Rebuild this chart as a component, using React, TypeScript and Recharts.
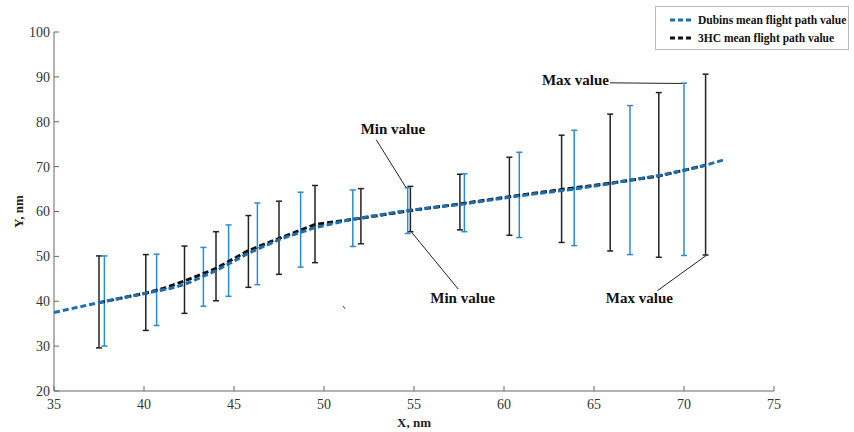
import React from 'react';
import {
  ComposedChart, Line, Scatter, ErrorBar, XAxis, YAxis, ReferenceLine, ReferenceDot, Legend,
} from 'recharts';

// ---- Data ----
const xTicks = [35, 40, 45, 50, 55, 60, 65, 70, 75];
const yTicks = [20, 30, 40, 50, 60, 70, 80, 90, 100];

// Dubins mean flight path
const dubinsMeanX = [35, 37.5, 40.1, 41.5, 42.3, 44.0, 45.8, 47.6, 49.5, 51.6, 54.6, 57.8, 60.85, 63.9, 65.9, 67.0, 68.6, 70.0, 71.2, 72.2];
const dubinsMeanY = [37.5, 39.7, 41.8, 42.9, 43.8, 46.8, 50.7, 53.9, 56.4, 58.3, 60.2, 61.7, 63.5, 65.0, 66.2, 67.0, 68.0, 69.2, 70.3, 71.5];

// 3HC mean flight path
const hcMeanX = [37.5, 40.1, 41.2, 42.3, 44.0, 45.8, 47.5, 49.5, 52.05, 54.8, 57.55, 60.3, 63.2, 65.9, 68.6, 71.2];
const hcMeanY = [39.7, 41.8, 43.0, 44.6, 47.3, 51.3, 54.0, 57.1, 58.5, 60.2, 61.7, 63.3, 64.9, 66.3, 67.9, 70.3];

// Dubins min / max ranges
const dubinsX = [37.8, 40.7, 43.3, 44.7, 46.3, 48.7, 51.6, 54.65, 57.8, 60.85, 63.9, 67.0, 70.0];
const dubinsMax = [50.1, 50.5, 52.0, 57.0, 61.9, 64.3, 64.8, 65.3, 68.4, 73.2, 78.1, 83.6, 88.6];
const dubinsMin = [30.0, 34.6, 38.9, 41.1, 43.7, 47.6, 52.2, 55.1, 55.5, 54.2, 52.4, 50.4, 50.2];

// 3HC min / max ranges
const hcX = [37.5, 40.1, 42.25, 44.0, 45.8, 47.5, 49.5, 52.05, 54.8, 57.55, 60.3, 63.2, 65.9, 68.6, 71.2];
const hcMax = [50.1, 50.4, 52.3, 55.5, 59.1, 62.3, 65.8, 65.1, 65.6, 68.3, 72.1, 77.0, 81.7, 86.5, 90.6];
const hcMin = [29.6, 33.5, 37.3, 40.1, 43.1, 46.0, 48.6, 52.8, 55.5, 55.9, 54.7, 53.1, 51.2, 49.8, 50.3];

// Annotations
const annotationTexts = ['Min value', 'Min value', 'Max value', 'Max value'];
const annotationX = [53.83, 57.7, 63.97, 67.52];
const annotationY = [78.5, 40.7, 89.27, 40.72];
const leaderX1 = [52.9, 54.87, 65.89, 68.52];
const leaderY1 = [76.0, 55.37, 88.67, 42.35];
const leaderX2 = [54.56, 57.46, 69.87, 71.22];
const leaderY2 = [65.3, 42.7, 88.53, 50.17];

const legendLabels = ['Dubins mean flight path value', '3HC mean flight path value'];

// ---- Build series ----
const zipLine = (xs: number[], ys: number[]) => xs.map((x, i) => ({ x, y: ys[i] }));
const zipRange = (xs: number[], mins: number[], maxs: number[]) =>
  xs.map((x, i) => ({ x, y: (mins[i] + maxs[i]) / 2, err: (maxs[i] - mins[i]) / 2 }));

const dubinsMean = zipLine(dubinsMeanX, dubinsMeanY);
const hcMean = zipLine(hcMeanX, hcMeanY);
const dubinsRange = zipRange(dubinsX, dubinsMin, dubinsMax);
const hcRange = zipRange(hcX, hcMin, hcMax);

const FONT = '"Liberation Serif", "Times New Roman", serif';
const BLUE_LINE = '#1d6fb0';
const BLUE_BAR = '#2b8bd3';
const BLACK = '#111111';
const AXIS = '#666666';

const Nothing = () => <g />;

const LegendBox = () => (
  <div
    style={{
      width: 194,
      height: 44,
      border: '1px solid #bbbbbb',
      background: '#fff',
      fontFamily: FONT,
      fontWeight: 'bold',
      fontSize: 11.5,
      color: '#111',
      boxSizing: 'border-box',
      paddingTop: 4,
    }}
  >
    {legendLabels.map((lab, i) => (
      <div key={lab} style={{ display: 'flex', alignItems: 'center', height: 18, paddingLeft: 14 }}>
        <svg width={24} height={6} style={{ marginRight: 4 }}>
          <line x1={0} y1={3} x2={24} y2={3} stroke={i === 0 ? BLUE_LINE : BLACK} strokeWidth={3} strokeDasharray="5 3" />
        </svg>
        <span>{lab}</span>
      </div>
    ))}
  </div>
);

export default function App() {
  return (
    <div style={{ position: 'absolute', left: 0, top: 0, width: 854, height: 432, background: '#fff' }}>
      <ComposedChart width={854} height={432} margin={{ top: 32, right: 80, bottom: 0, left: 0 }}>
        <XAxis
          type="number"
          dataKey="x"
          domain={[35, 75]}
          ticks={xTicks}
          allowDataOverflow
          height={41}
          stroke={AXIS}
          tickSize={-5}
          tickMargin={13}
          tick={{ fill: '#333', fontSize: 14, fontFamily: FONT }}
          label={{ value: 'X, nm', position: 'center', dy: 11, fill: '#222', fontSize: 13, fontWeight: 'bold', fontFamily: FONT }}
        />
        <YAxis
          type="number"
          dataKey="y"
          domain={[20, 100]}
          ticks={yTicks}
          allowDataOverflow
          width={54}
          stroke={AXIS}
          tickSize={-5}
          tickMargin={9}
          tick={{ fill: '#333', fontSize: 14, fontFamily: FONT }}
          label={{ value: 'Y, nm', position: 'center', angle: -90, dx: -9, fill: '#222', fontSize: 13, fontWeight: 'bold', fontFamily: FONT }}
        />
        <Scatter data={hcRange} dataKey="y" shape={Nothing} isAnimationActive={false} legendType="none">
          <ErrorBar dataKey="err" direction="y" width={3} stroke="#222" strokeWidth={1.5} />
        </Scatter>
        <Scatter data={dubinsRange} dataKey="y" shape={Nothing} isAnimationActive={false} legendType="none">
          <ErrorBar dataKey="err" direction="y" width={3} stroke={BLUE_BAR} strokeWidth={1.5} />
        </Scatter>
        <Line data={hcMean} dataKey="y" type="linear" stroke={BLACK} strokeWidth={3} strokeDasharray="6 3" dot={false} isAnimationActive={false} />
        <Line data={dubinsMean} dataKey="y" type="linear" stroke={BLUE_LINE} strokeWidth={3} strokeDasharray="6 3" dot={false} isAnimationActive={false} />
        {annotationTexts.map((t, i) => (
          <ReferenceLine
            key={'l' + i}
            segment={[{ x: leaderX1[i], y: leaderY1[i] }, { x: leaderX2[i], y: leaderY2[i] }]}
            stroke="#222"
            strokeWidth={1}
          />
        ))}
        <ReferenceLine segment={[{ x: 51.06, y: 38.99 }, { x: 51.17, y: 38.32 }]} stroke="#444" strokeWidth={1} />
        {annotationTexts.map((t, i) => (
          <ReferenceDot
            key={'t' + i}
            x={annotationX[i]}
            y={annotationY[i]}
            r={0}
            fill="none"
            stroke="none"
            label={{ value: t, position: 'center', fill: '#111', fontSize: 15, fontWeight: 'bold', fontFamily: FONT }}
          />
        ))}
        <Legend
          layout="horizontal"
          verticalAlign="middle"
          align="center"
          content={() => <LegendBox />}
          wrapperStyle={{ position: 'absolute', left: 655, top: 6, width: 196, height: 46 }}
        />
      </ComposedChart>
    </div>
  );
}
